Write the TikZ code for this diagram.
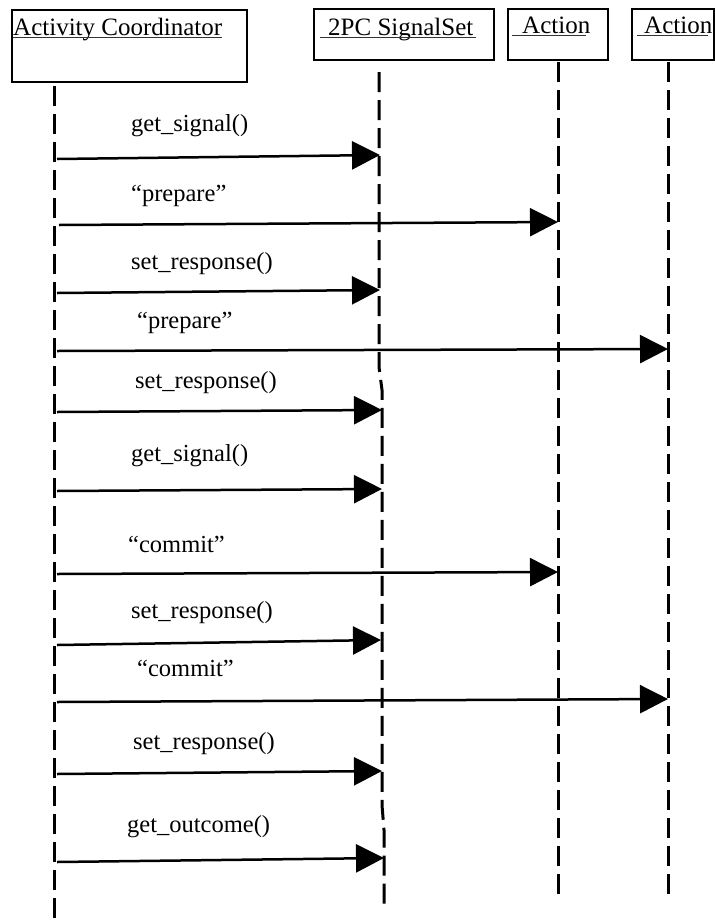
\documentclass[tikz,border=0pt]{standalone}
\usepackage{fontspec}
\setmainfont{Liberation Serif}
\usetikzlibrary{arrows.meta}
\begin{document}
\begin{tikzpicture}[x=1pt,y=-1pt,
  objbox/.style={draw,line width=1.5pt},
  headtext/.style={font=\fontsize{25}{28}\selectfont,anchor=base west,inner sep=0pt},
  ulinestyle/.style={line width=0.9pt,black!80},
  lifeline/.style={line width=3pt,dash pattern=on 20pt off 8pt},
  msg/.style={line width=2.5pt,-{Triangle[length=28pt,width=28pt]}},
  msglabel/.style={font=\fontsize{24.5}{28}\selectfont,anchor=base west,inner sep=0pt}]
\useasboundingbox (0,0) rectangle (715,924);
% object boxes
\draw[objbox] (12,10) rectangle (247,82) coordinate (b1);
\draw[objbox] (314,9) rectangle (494,60);
\draw[objbox] (508,9) rectangle (608,60);
\draw[objbox] (632,9) rectangle (714,60);
% header texts
\node[headtext] (h1) at (13,35) {Activity Coordinator};
\draw[ulinestyle] (13,37.5) -- (222,37.5);
\node[headtext] (h2) at (328,35) {2PC SignalSet};
\draw[ulinestyle] (320,37.5) -- (476,37.5);
\node[headtext] (h3) at (522,33) {Action};
\draw[ulinestyle] (512,35.5) -- (586,35.5);
\node[headtext] (h4) at (644,33) {Action};
\draw[ulinestyle] (637,35.5) -- (708,35.5);
% lifelines
\coordinate (l1top) at (54,86); \coordinate (l1bot) at (54,924);
\coordinate (l2top) at (379,72); \coordinate (l2bot) at (384,910);
\coordinate (l3top) at (558,62); \coordinate (l3bot) at (558,901);
\coordinate (l4top) at (668,62); \coordinate (l4bot) at (668,901);
\draw[lifeline] (l1top) -- (l1bot);
\draw[lifeline] (l2top) -- (379,367) -- (382,390) -- (382,805) -- (384,830) -- (l2bot);
\draw[lifeline] (l3top) -- (l3bot);
\draw[lifeline] (l4top) -- (l4bot);
% messages
\coordinate (m1s) at (57,159);  \coordinate (m1e) at (380,155);
\coordinate (m2s) at (59,225);  \coordinate (m2e) at (558,222);
\coordinate (m3s) at (57,293);  \coordinate (m3e) at (380,290);
\coordinate (m4s) at (57,351);  \coordinate (m4e) at (668,349);
\coordinate (m5s) at (57,412);  \coordinate (m5e) at (382,410);
\coordinate (m6s) at (57,491);  \coordinate (m6e) at (382,489);
\coordinate (m7s) at (57,574);  \coordinate (m7e) at (558,572);
\coordinate (m8s) at (57,645);  \coordinate (m8e) at (381,640);
\coordinate (m9s) at (57,702);  \coordinate (m9e) at (668,699);
\coordinate (m10s) at (57,774); \coordinate (m10e) at (382,771);
\coordinate (m11s) at (57,862); \coordinate (m11e) at (384,858);
\foreach \i in {1,...,11}{\draw[msg] (m\i s) -- (m\i e);}
% labels
\node[msglabel] (t1) at (131,131) {get\_signal()};
\node[msglabel] (t2) at (131,201) {“prepare”};
\node[msglabel] (t3) at (131,269) {set\_response()};
\node[msglabel] (t4) at (137,328) {“prepare”};
\node[msglabel] (t5) at (135,388) {set\_response()};
\node[msglabel] (t6) at (131,461) {get\_signal()};
\node[msglabel] (t7) at (128,552) {“commit”};
\node[msglabel] (t8) at (131,618) {set\_response()};
\node[msglabel] (t9) at (137,676) {“commit”};
\node[msglabel] (t10) at (133,749) {set\_response()};
\node[msglabel] (t11) at (127,832) {get\_outcome()};
\end{tikzpicture}
\end{document}
